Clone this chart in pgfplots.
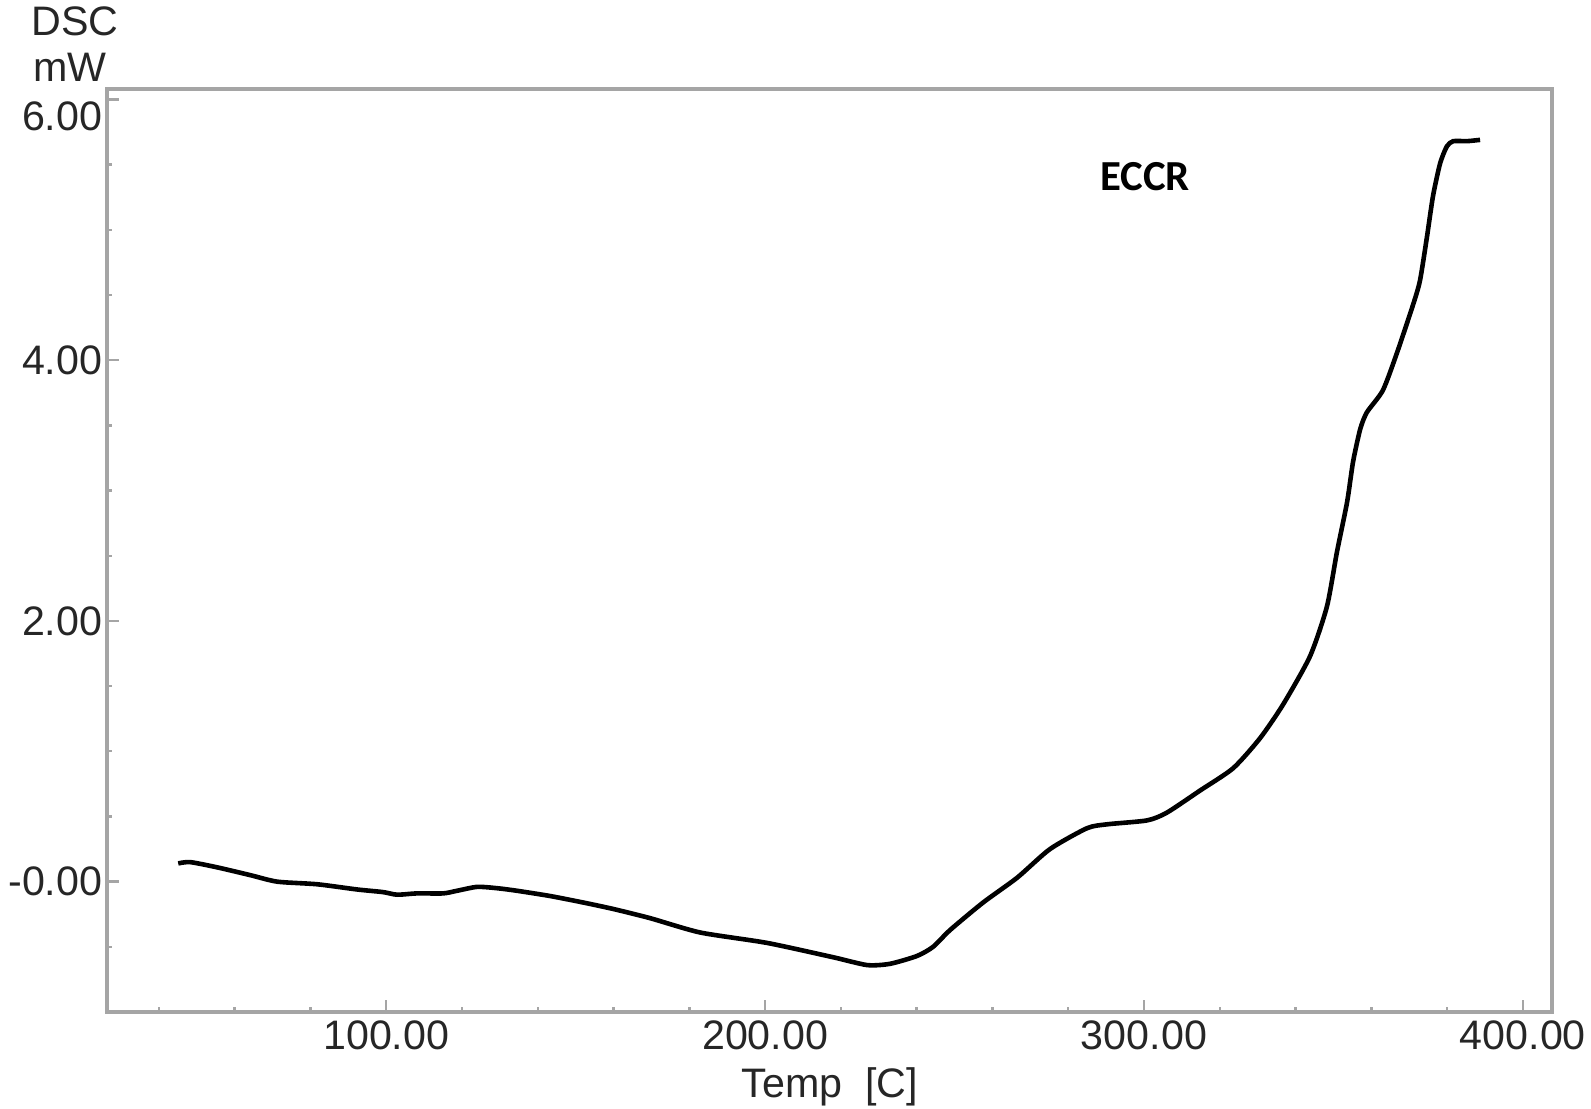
\documentclass[border=0pt]{standalone}
\usepackage{fontspec}
\setmainfont{Liberation Sans}
\newfontfamily\calibri{Carlito}
\usepackage{pgfplots}
\pgfplotsset{compat=1.18}

\definecolor{frame}{RGB}{165,165,165}

\begin{document}
\begin{tikzpicture}
\useasboundingbox (-26.75pt,-24pt) rectangle (371pt,253pt);
\begin{axis}[
    scale only axis,
    width=361.25pt,
    height=230.75pt,
    xmin=26.3, xmax=407.7,
    ymin=-1.0, ymax=6.08,
    axis line style={frame, line width=0.8pt},
    xtick={100,200,300,400},
    xticklabels={100.00,200.00,300.00,400.00},
    minor xtick={40,60,80,120,140,160,180,220,240,260,280,320,340,360,380},
    ytick={0,2,4,6},
    yticklabels={-0.00,2.00,4.00,\smash{\raisebox{-7.7pt}{6.00}}},
    minor ytick={-0.5,0.5,1,1.5,2.5,3,3.5,4.5,5,5.5},
    xtick pos=bottom,
    ytick pos=left,
    tick align=inside,
    major tick length=3pt,
    minor tick length=1.3pt,
    every tick/.style={frame, line width=0.6pt},
    tick label style={font=\fontsize{10.3}{12}\selectfont, text=black!85},
    xticklabel style={inner sep=0pt, anchor=north, yshift=-2pt},
    yticklabel style={inner sep=0pt, anchor=east, xshift=-1pt},
    /pgf/number format/assume math mode=true,
]
\addplot[black, line width=1.15pt, smooth, tension=0.4] coordinates {
(45.1,0.14) (48.25,0.15) (55.35,0.11) (64.13,0.05) (71.23,0.00) (81.79,-0.02)
(92.34,-0.06) (99.14,-0.08) (102.89,-0.10) (108.12,-0.09) (115.02,-0.09)
(118.67,-0.07) (124.00,-0.04) (129.22,-0.05) (134.55,-0.07) (143.23,-0.11)
(152.01,-0.16) (160.00,-0.21) (169.66,-0.28) (182.88,-0.39) (200.54,-0.47)
(217.99,-0.58) (226.97,-0.64) (232.98,-0.63) (240.09,-0.57) (244.33,-0.50)
(248.86,-0.37) (257.54,-0.16) (266.51,0.03) (275.19,0.25) (284.96,0.41)
(290.29,0.44) (300.84,0.47) (306.07,0.53) (314.85,0.70) (323.53,0.87)
(330.62,1.10) (336.74,1.36) (343.84,1.73) (348.28,2.11) (350.94,2.53)
(353.60,2.91) (355.18,3.22) (357.06,3.47) (358.83,3.60) (363.07,3.77)
(366.82,4.06) (370.96,4.42) (372.84,4.61) (374.71,4.95) (376.29,5.26)
(378.16,5.51) (379.94,5.64) (381.61,5.68) (385.26,5.68) (388.71,5.69)
};
\end{axis}
\node[inner sep=0pt, font=\fontsize{10.3}{12}\selectfont, text=black!85] at (-8pt,247.75pt) {DSC};
\node[inner sep=0pt, font=\fontsize{10.3}{12}\selectfont, text=black!85] at (-9.25pt,236.25pt) {mW};
\node[inner sep=0pt, font=\fontsize{10.3}{12}\selectfont, text=black!85] at (180.75pt,-18.75pt) {Temp\ \ [C]};
\node[inner sep=0pt, font=\calibri\bfseries\fontsize{10.7}{12}\selectfont] at (259.5pt,208.75pt) {ECCR};
\end{tikzpicture}
\end{document}
